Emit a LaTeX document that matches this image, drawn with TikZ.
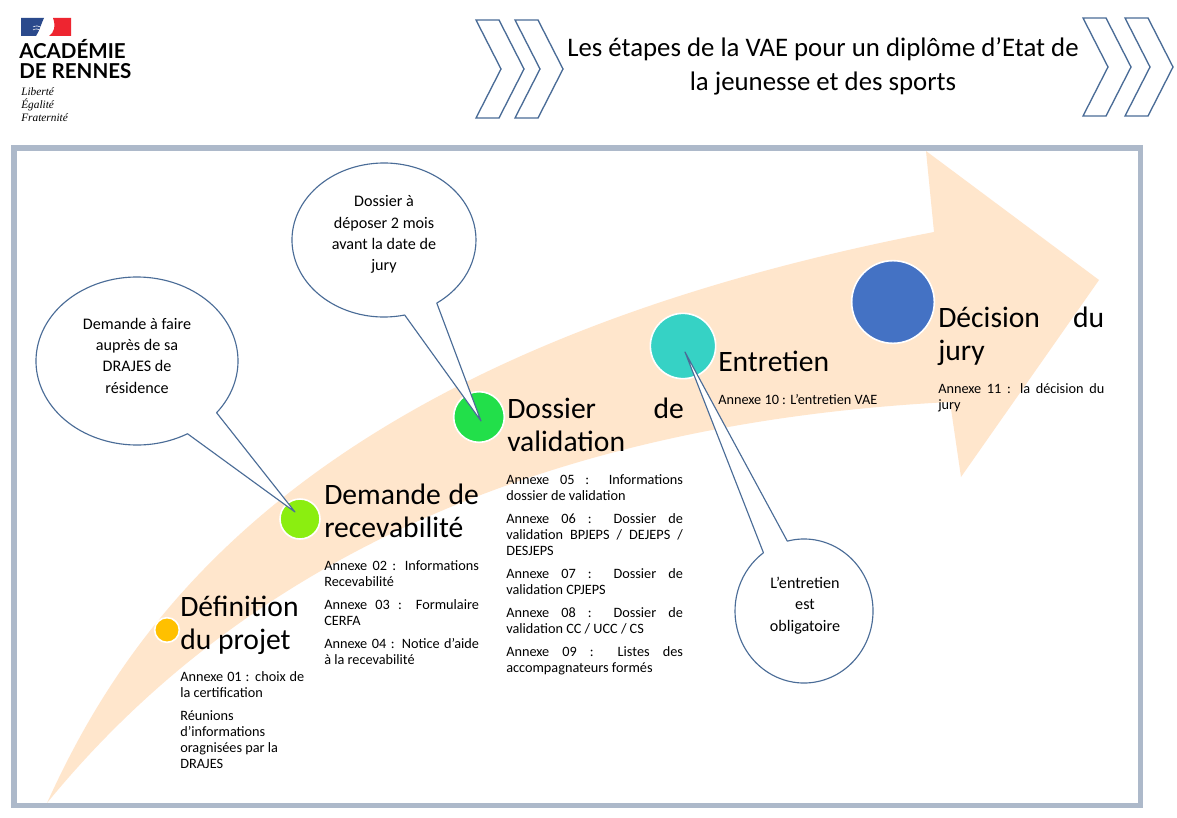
\documentclass[tikz,border=0pt]{standalone}
\usepackage{fontspec}
\setmainfont{Carlito}
\newfontfamily\logofont{Lato}
\newfontfamily\mottofont{Liberation Serif}
\usepackage{tikz}
\usetikzlibrary{arrows.meta,positioning,calc}
\definecolor{framegray}{HTML}{ADB9CA}
\definecolor{bandpeach}{HTML}{FFE6CC}
\definecolor{outlineblue}{HTML}{4A6C97}
\definecolor{dotgold}{HTML}{FFC000}
\definecolor{dotlime}{HTML}{8BEE10}
\definecolor{dotgreen}{HTML}{22DF4A}
\definecolor{dotteal}{HTML}{36D2C5}
\definecolor{dotblue}{HTML}{4472C4}
\definecolor{flagblue}{HTML}{2B4A8C}
\definecolor{flagred}{HTML}{EE2530}

\tikzset{
  dotnode/.style={circle,draw=white,line width=1.2pt,inner sep=0pt},
  stagetitle/.style={anchor=north west,inner sep=0pt,font=\fontsize{22.2}{24.6}\selectfont,align=justify},
  stagenote/.style={anchor=north west,inner sep=0pt,font=\fontsize{10.7}{12}\selectfont,align=justify},
  bubbletext/.style={inner sep=0pt,font=\fontsize{12.1}{16}\selectfont,align=center},
  logotext/.style={anchor=base west,inner sep=0pt,text height=10.5pt,text depth=0pt,font=\logofont\bfseries\fontsize{15.4}{16}\selectfont},
  mottotext/.style={anchor=west,inner sep=0pt,font=\mottofont\itshape\fontsize{8.5}{9}\selectfont},
  chevronline/.style={draw=outlineblue,line width=1pt,fill=white},
  calloutline/.style={draw=outlineblue,line width=0.85pt,fill=white,line join=round},
}

\begin{document}
\begin{tikzpicture}[x=0.75pt,y=-0.75pt]
  \useasboundingbox (0,0) rectangle (1177,817);
  \fill[white] (0,0) rectangle (1177,817);

  % logo
  \fill[flagblue] (21,18) -- (44,18) .. controls (41,24) and (40,30) .. (36,36) -- (21,36) -- cycle;
  \fill[flagred] (53,18) -- (71,18) -- (71,36) -- (49,36) .. controls (54,33) and (56,26) .. (53,18) -- cycle;
  \draw[white,line width=0.4pt] (33,27) .. controls (36,25) and (39,26) .. (42,28);
  \draw[white,line width=0.4pt] (33,30) .. controls (36,28) and (38,29) .. (41,31);
  \node[logotext] (logoa) at (19,59) {ACADÉMIE};
  \node[logotext] (logob) at (19,79) {DE RENNES};
  \node[mottotext] (mottoa) at (21,92) {Liberté};
  \node[mottotext] (mottob) at (21,105) {Égalité};
  \node[mottotext] (mottoc) at (21,118) {Fraternité};

  % chevrons of the title
  \newcommand{\chevronpair}[3]{%
    \foreach \dx in {0,#3}{
      \draw[chevronline] (#1+\dx,#2) -- (#1+\dx+23,#2) -- (#1+\dx+48,#2+49) -- (#1+\dx+23,#2+98)
        -- (#1+\dx,#2+98) -- (#1+\dx+25,#2+49) -- cycle;
    }
  }
  \chevronpair{476}{20}{39}
  \chevronpair{1083}{18}{42}
  \node[inner sep=0pt,align=center,font=\fontsize{20.1}{25.5}\selectfont] (title) at (823,66)
    {Les étapes de la VAE pour un diplôme d’Etat de\\la jeunesse et des sports};

  % frame
  \draw[framegray,line width=4.1pt] (14,148) rectangle (1140.5,805.5);

  % big arrow
  \fill[bandpeach] (47,803)
    .. controls (130,620) and (310,352) .. (934,232)
    -- (926,151) -- (1099,280) -- (961,477) -- (950,402)
    .. controls (600,420) and (270,530) .. (47,803) -- cycle;

  % steps
  \node[dotnode,fill=dotgold,minimum size=18.5pt] (dotdef) at (167,630) {};
  \node[dotnode,fill=dotlime,minimum size=30pt] (dotrec) at (300,519) {};
  \node[dotnode,fill=dotgreen,minimum size=38pt] (dotdos) at (479,417) {};
  \node[dotnode,fill=dotteal,minimum size=49pt] (dotent) at (683,346) {};
  \node[dotnode,fill=dotblue,minimum size=62pt] (dotdec) at (893,302) {};

  \node[stagetitle,text width=94pt] (headdef) at (180,596) {Définition\\du projet};
  \node[stagenote,text width=93pt] (notedefa) at (180,671) {Annexe 01 : choix de\linebreak la certification};
  \node[stagenote,text width=93pt] (notedefb) at (180,710) {Réunions\\d'informations\\oragnisées par la\\DRAJES};

  \node[stagetitle,text width=116pt] (headrec) at (324,484) {Demande de\linebreak recevabilité};
  \node[stagenote,text width=116pt] (noterec) at (324,560) {Annexe 02 : Informations\linebreak Recevabilité};
  \node[stagenote,text width=116pt] (noterecb) at (324,599) {Annexe 03 : Formulaire\linebreak CERFA};
  \node[stagenote,text width=116pt] (noterecc) at (324,638) {Annexe 04 : Notice d'aide\linebreak à la recevabilité};

  \node[stagetitle,text width=132.5pt] (headdos) at (507,398) {Dossier de\linebreak validation};
  \node[stagenote,text width=132.5pt] (notedosa) at (506,474) {Annexe 05 : Informations\linebreak dossier de validation};
  \node[stagenote,text width=132.5pt] (notedosb) at (506,513) {Annexe 06 : Dossier de\linebreak validation BPJEPS / DEJEPS /\linebreak DESJEPS};
  \node[stagenote,text width=132.5pt] (notedosc) at (506,568) {Annexe 07 : Dossier de\linebreak validation CPJEPS};
  \node[stagenote,text width=132.5pt] (notedosd) at (506,607) {Annexe 08 : Dossier de\linebreak validation CC / UCC / CS};
  \node[stagenote,text width=132.5pt] (notedose) at (506,646) {Annexe 09 : Listes des\linebreak accompagnateurs formés};

  \node[stagetitle,text width=125pt] (headent) at (718,351) {Entretien};
  \node[stagenote,text width=125pt] (noteent) at (718,394) {Annexe 10 : L'entretien VAE};

  \node[stagetitle,text width=124.5pt] (headdec) at (938,307) {Décision du\linebreak jury};
  \node[stagenote,text width=124.5pt] (notedec) at (938,383) {Annexe 11 : la décision du\linebreak jury};

  % callouts
  \draw[calloutline] ({137+101*cos(60)},{361+84*sin(60)})
    arc[start angle=60,end angle=398,x radius=101,y radius=84] -- (295,512) -- cycle;
  \draw[calloutline] ({384+92*cos(77)},{240+77*sin(77)})
    arc[start angle=77,end angle=415,x radius=92,y radius=77] -- (481,421) -- cycle;
  \draw[calloutline] ({804+69*cos(256)},{611+72*sin(256)})
    arc[start angle=256,end angle=594,x radius=69,y radius=72] -- (685,352) -- cycle;
  \node[bubbletext] (bubblerec) at (137,355.5) {Demande à faire\\auprès de sa\\DRAJES de\\résidence};
  \node[bubbletext] (bubbledos) at (384,234.5) {Dossier à\\déposer 2 mois\\avant la date de\\jury};
  \node[bubbletext] (bubbleent) at (805,605.5) {L’entretien\\est\\obligatoire};
\end{tikzpicture}
\end{document}
